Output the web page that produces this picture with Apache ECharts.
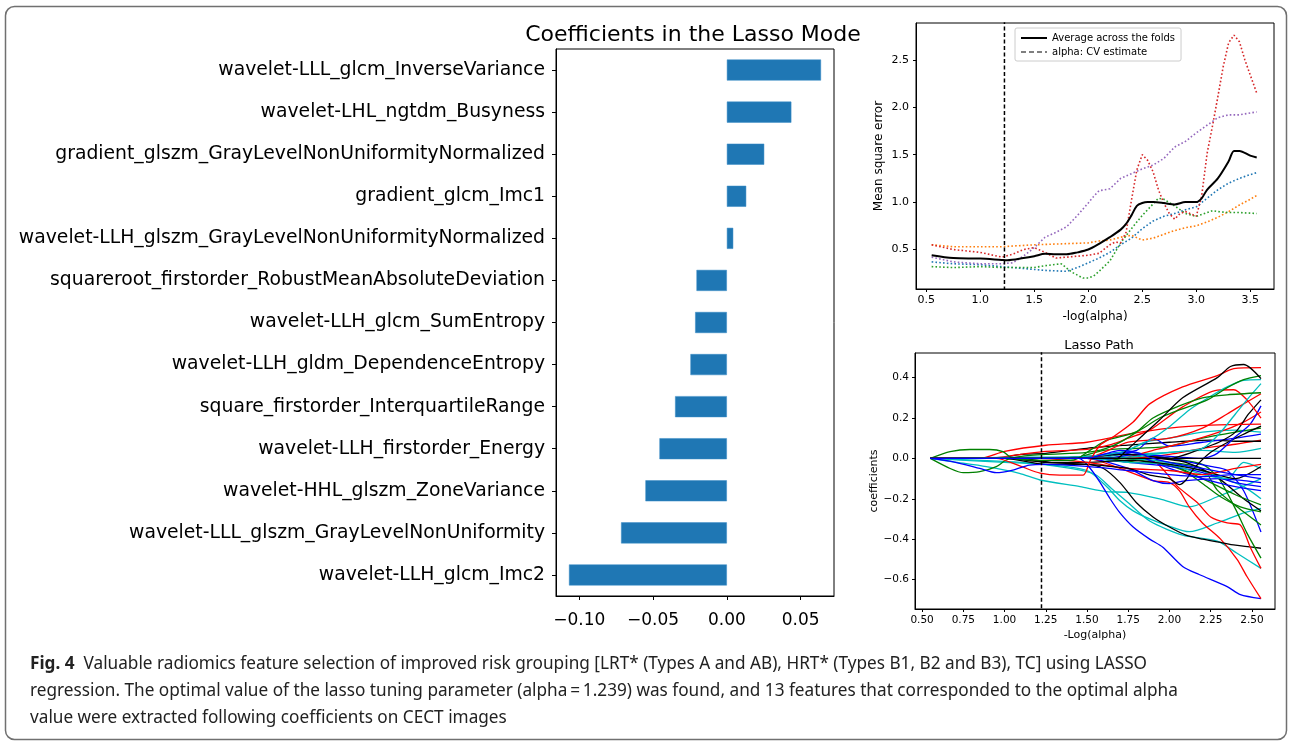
<!DOCTYPE html>
<html>
<head>
<meta charset="utf-8">
<script src="https://cdn.jsdelivr.net/npm/echarts@6/dist/echarts.min.js"></script>
<style>
html,body{margin:0;padding:0;background:#fff;}
#c{width:1290px;height:742px;}
</style>
</head>
<body>
<div id="c"></div>
<script>
// ---------- main bar chart ----------
const barLabels = [
  'wavelet-LLL_glcm_InverseVariance',
  'wavelet-LHL_ngtdm_Busyness',
  'gradient_glszm_GrayLevelNonUniformityNormalized',
  'gradient_glcm_Imc1',
  'wavelet-LLH_glszm_GrayLevelNonUniformityNormalized',
  'squareroot_firstorder_RobustMeanAbsoluteDeviation',
  'wavelet-LLH_glcm_SumEntropy',
  'wavelet-LLH_gldm_DependenceEntropy',
  'square_firstorder_InterquartileRange',
  'wavelet-LLH_firstorder_Energy',
  'wavelet-HHL_glszm_ZoneVariance',
  'wavelet-LLL_glszm_GrayLevelNonUniformity',
  'wavelet-LLH_glcm_Imc2'
];
const barValues = [0.0638, 0.0437, 0.0253, 0.0131, 0.0043, -0.0206, -0.0215, -0.0247, -0.0351, -0.0457, -0.0552, -0.0717, -0.1070];
const barTicks = [-0.10, -0.05, 0.00, 0.05];

// ---------- MSE chart ----------
const mseTicksX = [0.5, 1.0, 1.5, 2.0, 2.5, 3.0, 3.5];
const mseTicksY = [0.5, 1.0, 1.5, 2.0, 2.5];
const alphaCV = 1.224;
const mseFold1 = [[0.55,0.37],[0.75,0.35],[1.0,0.34],[1.2,0.32],[1.5,0.29],[1.6,0.28],[1.8,0.27],[1.9,0.31],[2.0,0.36],[2.1,0.41],[2.2,0.47],[2.3,0.55],[2.4,0.62],[2.5,0.72],[2.6,0.8],[2.7,0.85],[2.8,0.88],[2.9,0.92],[3.0,0.95],[3.1,1.04],[3.2,1.13],[3.3,1.2],[3.4,1.25],[3.5,1.29],[3.56,1.31]];
const mseFold2 = [[0.55,0.55],[0.75,0.53],[1.0,0.53],[1.2,0.53],[1.5,0.55],[1.75,0.56],[2.0,0.57],[2.1,0.59],[2.2,0.6],[2.3,0.63],[2.4,0.65],[2.5,0.6],[2.6,0.62],[2.7,0.66],[2.8,0.7],[2.9,0.73],[3.0,0.75],[3.1,0.79],[3.2,0.84],[3.3,0.9],[3.4,0.97],[3.5,1.03],[3.56,1.07]];
const mseFold3 = [[0.55,0.32],[0.75,0.31],[1.0,0.32],[1.2,0.31],[1.5,0.31],[1.6,0.33],[1.75,0.35],[1.85,0.26],[1.95,0.2],[2.0,0.2],[2.05,0.22],[2.1,0.27],[2.2,0.38],[2.3,0.57],[2.4,0.72],[2.5,0.86],[2.6,0.98],[2.65,1.04],[2.7,1.03],[2.8,0.96],[2.9,0.88],[3.0,0.85],[3.1,0.89],[3.15,0.91],[3.2,0.9],[3.3,0.89],[3.4,0.89],[3.56,0.88]];
const mseFold4 = [[0.55,0.55],[0.75,0.5],[1.0,0.47],[1.2,0.42],[1.3,0.45],[1.4,0.5],[1.5,0.52],[1.6,0.47],[1.7,0.41],[1.8,0.42],[2.0,0.44],[2.1,0.46],[2.2,0.55],[2.25,0.58],[2.3,0.57],[2.35,0.68],[2.4,1.02],[2.45,1.34],[2.5,1.5],[2.55,1.44],[2.6,1.32],[2.65,1.13],[2.7,0.99],[2.75,0.88],[2.8,0.82],[2.85,0.88],[2.9,0.9],[3.0,0.85],[3.05,1.06],[3.1,1.51],[3.15,1.8],[3.2,2.11],[3.25,2.43],[3.3,2.68],[3.35,2.76],[3.4,2.69],[3.45,2.5],[3.5,2.34],[3.56,2.15]];
const mseFold5 = [[0.55,0.42],[0.75,0.37],[1.0,0.35],[1.2,0.35],[1.3,0.36],[1.4,0.43],[1.5,0.52],[1.6,0.63],[1.7,0.68],[1.8,0.74],[1.9,0.86],[2.0,0.99],[2.05,1.06],[2.1,1.12],[2.2,1.14],[2.3,1.25],[2.4,1.3],[2.5,1.35],[2.6,1.39],[2.7,1.46],[2.8,1.58],[2.9,1.64],[3.0,1.73],[3.1,1.81],[3.2,1.89],[3.3,1.92],[3.4,1.92],[3.5,1.94],[3.56,1.95]];
const mseAverage = [[0.55,0.44],[0.75,0.41],[1.0,0.405],[1.2,0.39],[1.25,0.387],[1.4,0.41],[1.5,0.43],[1.6,0.455],[1.7,0.45],[1.8,0.45],[1.9,0.47],[2.0,0.5],[2.1,0.56],[2.2,0.63],[2.3,0.71],[2.35,0.77],[2.4,0.86],[2.45,0.96],[2.5,0.99],[2.55,1.0],[2.6,1.0],[2.7,0.99],[2.8,0.975],[2.9,1.0],[3.0,1.0],[3.05,1.04],[3.1,1.13],[3.2,1.25],[3.3,1.43],[3.35,1.54],[3.4,1.54],[3.5,1.49],[3.56,1.47]];

// ---------- Lasso path chart ----------
const lassoTicksX = [0.50, 0.75, 1.00, 1.25, 1.50, 1.75, 2.00, 2.25, 2.50];
const lassoTicksY = [-0.6, -0.4, -0.2, 0.0, 0.2, 0.4];
const pathK1 = [[0.55,0],[1.6,0],[1.68,0.0],[1.74,0.04],[1.82,0.1],[1.94,0.19],[2.08,0.3],[2.29,0.4],[2.37,0.455],[2.45,0.465],[2.555,0.395]];
const pathR1 = [[0.55,0],[0.95,0],[1.1,-0.04],[1.215,-0.073],[1.336,-0.083],[1.476,-0.083],[1.52,-0.01],[1.58,0.066],[1.66,0.107],[1.78,0.18],[1.88,0.27],[2.08,0.354],[2.29,0.41],[2.39,0.445],[2.555,0.45]];
const pathG1 = [[0.55,0],[0.67,0.033],[0.79,0.044],[0.91,0.044],[0.99,0.033],[1.05,0],[1.3,-0.01],[1.42,-0.008],[1.52,0.041],[1.62,0.09],[1.74,0.115],[1.82,0.14],[1.94,0.2],[2.06,0.24],[2.23,0.29],[2.35,0.35],[2.45,0.39],[2.555,0.41]];
const pathG2 = [[0.55,0],[0.67,-0.05],[0.75,-0.071],[0.85,-0.066],[0.95,-0.041],[1.01,-0.008],[1.1,0.01],[1.25,0.02],[1.5,0.03],[1.65,0.06],[1.8,0.13],[1.9,0.2],[2.06,0.26],[2.2,0.3],[2.35,0.315],[2.555,0.325]];
const pathC1 = [[0.55,0],[1.0,0.005],[1.5,0.01],[1.7,0.03],[1.8,0.06],[1.88,0.09],[2.0,0.157],[2.12,0.24],[2.245,0.305],[2.35,0.354],[2.45,0.387],[2.555,0.39]];
const pathC2 = [[0.55,0],[1.6,0],[1.8,0.01],[2.0,0.03],[2.2,0.05],[2.3,0.12],[2.4,0.22],[2.48,0.3],[2.555,0.37]];
const pathR2 = [[0.55,0],[0.9,0],[1.1,0.02],[1.25,0.035],[1.5,0.045],[1.65,0.07],[1.75,0.1],[1.88,0.14],[2.08,0.255],[2.29,0.338],[2.39,0.34],[2.47,0.29],[2.555,0.2]];
const pathR3 = [[0.55,0],[1.5,0],[1.6,0.03],[1.75,0.08],[2.0,0.1],[2.2,0.15],[2.35,0.22],[2.45,0.27],[2.555,0.32]];
const pathR4 = [[0.55,0],[0.85,0],[1.0,0.035],[1.25,0.065],[1.5,0.08],[1.75,0.12],[2.0,0.15],[2.25,0.165],[2.555,0.17]];
const pathK2 = [[0.55,0],[1.3,0],[1.5,0.01],[1.75,0.02],[2.0,0.0],[2.2,0.05],[2.3,0.08],[2.4,0.13],[2.48,0.22],[2.555,0.29]];
const pathB1 = [[0.55,0],[1.6,0],[1.8,0.02],[2.0,0.01],[2.2,0.0],[2.29,0.025],[2.4,0.107],[2.49,0.17],[2.555,0.26]];
const pathR5 = [[0.55,0],[1.7,0],[1.9,0.04],[2.1,0.08],[2.3,0.13],[2.45,0.18],[2.555,0.23]];
const pathK3 = [[0.55,0],[1.0,0],[1.25,-0.02],[1.5,-0.03],[1.75,-0.05],[1.88,-0.083],[2.0,-0.1],[2.06,-0.13],[2.1,-0.107],[2.14,-0.058],[2.25,0.03],[2.4,0.1],[2.555,0.16]];
const pathG3 = [[0.55,0],[1.4,0],[1.6,0.04],[1.8,0.05],[2.0,0.06],[2.2,0.1],[2.4,0.13],[2.555,0.15]];
const pathB2 = [[0.55,0],[1.45,0],[1.6,0.02],[1.8,0.04],[1.9,0.1],[2.0,0.06],[2.2,0.08],[2.4,0.1],[2.555,0.12]];
const pathC3 = [[0.55,0],[1.5,0],[1.7,0.02],[1.85,0.08],[2.0,0.1],[2.2,0.13],[2.4,0.14],[2.555,0.13]];
const pathK4 = [[0.55,0],[0.95,0],[1.1,0.02],[1.25,0.025],[1.5,0.05],[1.75,0.066],[2.0,0.08],[2.25,0.09],[2.4,0.085],[2.555,0.085]];
const pathR6 = [[0.55,0],[1.3,0],[1.5,0.01],[1.75,0.0],[2.0,0.02],[2.2,0.05],[2.4,0.07],[2.555,0.09]];
const pathC4 = [[0.55,0],[1.6,0],[1.8,0.02],[2.0,0.03],[2.2,0.04],[2.4,0.03],[2.555,0.05]];
const pathR7 = [[0.55,0],[1.2,0],[1.5,-0.02],[1.75,-0.05],[2.0,-0.06],[2.2,-0.08],[2.4,-0.05],[2.555,-0.03]];
const pathK5 = [[0.55,0],[2.555,0]];
const pathB3 = [[0.55,0],[1.5,0],[1.6,0.02],[1.7,0.04],[1.8,0.03],[1.9,0.0],[2.0,-0.02],[2.2,-0.05],[2.4,-0.08],[2.555,-0.1]];
const pathK6 = [[0.55,0],[1.1,0],[1.3,-0.02],[1.5,-0.02],[1.75,-0.01],[2.0,-0.03],[2.2,-0.06],[2.4,-0.1],[2.555,-0.04]];
const pathC5 = [[0.55,0],[1.3,0],[1.5,0.0],[1.75,-0.02],[2.0,-0.03],[2.2,-0.08],[2.35,-0.1],[2.45,-0.02],[2.555,-0.05]];
const pathB4 = [[0.55,0],[0.69,-0.017],[0.85,-0.05],[0.95,-0.071],[1.05,-0.058],[1.15,-0.033],[1.25,-0.03],[1.5,-0.04],[1.75,-0.06],[2.0,-0.08],[2.2,-0.09],[2.4,-0.08],[2.555,-0.08]];
const pathB5 = [[0.55,0],[1.5,0],[1.75,-0.05],[1.9,-0.11],[2.0,-0.125],[2.1,-0.11],[2.3,-0.1],[2.45,-0.11],[2.555,-0.12]];
const pathB6 = [[0.55,0],[1.55,0],[1.75,-0.02],[2.0,-0.04],[2.2,-0.07],[2.4,-0.12],[2.555,-0.14]];
const pathB7 = [[0.55,0],[1.5,0],[1.7,0.03],[1.85,0.0],[2.0,-0.05],[2.2,-0.1],[2.4,-0.14],[2.555,-0.16]];
const pathC6 = [[0.55,0],[1.7,0],[1.9,-0.01],[2.1,-0.04],[2.3,-0.09],[2.45,-0.14],[2.555,-0.2]];
const pathG4 = [[0.55,0],[1.6,0],[1.8,-0.02],[2.0,-0.03],[2.2,-0.1],[2.4,-0.18],[2.555,-0.23]];
const pathG5 = [[0.55,0],[1.7,0],[1.9,-0.02],[2.08,-0.058],[2.2,-0.124],[2.31,-0.19],[2.43,-0.24],[2.555,-0.265]];
const pathK7 = [[0.55,0],[1.7,0],[1.9,0.0],[2.1,-0.02],[2.3,-0.1],[2.45,-0.2],[2.555,-0.26]];
const pathG6 = [[0.55,0],[1.75,0],[2.0,-0.02],[2.2,-0.05],[2.29,-0.157],[2.41,-0.24],[2.555,-0.33]];
const pathB8 = [[0.55,0],[1.5,0],[1.75,0.03],[2.0,0.0],[2.25,-0.04],[2.35,-0.06],[2.45,-0.16],[2.555,-0.365]];
const pathK8 = [[0.55,0],[1.0,0],[1.25,-0.03],[1.5,-0.03],[1.6,-0.05],[1.7,-0.12],[1.8,-0.22],[1.9,-0.29],[2.0,-0.34],[2.1,-0.38],[2.2,-0.4],[2.3,-0.415],[2.4,-0.43],[2.555,-0.445]];
const pathG7 = [[0.55,0],[1.5,0],[1.75,0.03],[2.0,0.0],[2.2,-0.03],[2.3,-0.1],[2.4,-0.25],[2.47,-0.37],[2.555,-0.494]];
const pathR8 = [[0.55,0],[1.7,0],[1.91,-0.017],[2.05,-0.14],[2.17,-0.22],[2.25,-0.29],[2.35,-0.32],[2.43,-0.33],[2.49,-0.44],[2.555,-0.545]];
const pathC7 = [[0.55,0],[1.1,-0.02],[1.4,-0.05],[1.55,-0.08],[1.65,-0.15],[1.75,-0.22],[1.88,-0.31],[2.08,-0.38],[2.29,-0.41],[2.41,-0.47],[2.555,-0.545]];
const pathC8 = [[0.55,0],[1.0,-0.02],[1.25,-0.03],[1.5,-0.06],[1.62,-0.14],[1.7,-0.21],[1.78,-0.26],[1.88,-0.3],[1.98,-0.33],[2.12,-0.363],[2.29,-0.32],[2.45,-0.27],[2.555,-0.247]];
const pathC9 = [[0.55,0],[0.69,-0.017],[0.89,-0.041],[1.09,-0.074],[1.215,-0.107],[1.458,-0.14],[1.62,-0.165],[1.74,-0.168],[1.94,-0.2],[2.12,-0.24],[2.29,-0.19],[2.49,-0.124],[2.555,-0.1]];
const pathR9 = [[0.55,0],[1.5,0],[1.7,-0.05],[1.9,-0.11],[2.0,-0.12],[2.06,-0.16],[2.12,-0.24],[2.2,-0.32],[2.31,-0.4],[2.41,-0.5],[2.47,-0.585],[2.555,-0.695]];
const pathB9 = [[0.55,0],[1.45,0],[1.52,-0.05],[1.58,-0.12],[1.64,-0.2],[1.7,-0.27],[1.78,-0.34],[1.88,-0.4],[1.96,-0.44],[2.08,-0.535],[2.18,-0.575],[2.35,-0.635],[2.43,-0.675],[2.555,-0.695]];

const B='#0000ff', G='#008000', R='#ff0000', C='#00bfbf', K='#000000';
const lassoPaths = [
  [pathC9,C],[pathC8,C],[pathC7,C],[pathB9,B],[pathR9,R],[pathK8,K],[pathR8,R],[pathG7,G],
  [pathB8,B],[pathG6,G],[pathK7,K],[pathG5,G],[pathG4,G],[pathC6,C],[pathB7,B],[pathB6,B],
  [pathB5,B],[pathC5,C],[pathK6,K],[pathR7,R],[pathC4,C],[pathR6,R],[pathK4,K],[pathC3,C],
  [pathB2,B],[pathG3,G],[pathK3,K],[pathR5,R],[pathB1,B],[pathK2,K],[pathR4,R],[pathR3,R],
  [pathR2,R],[pathC2,C],[pathC1,C],[pathG2,G],[pathG1,G],[pathR1,R],[pathK1,K],
  [pathK5,K],[pathB4,B],[pathB3,B]
];

// ---------- chart ----------
const chart = echarts.init(document.getElementById('c'), null, {renderer: 'canvas'});
const FONT = '"DejaVu Sans", "Liberation Sans", sans-serif';
const fmt = (d) => (v) => (v < 0 ? '\u2212' : '') + Math.abs(v).toFixed(d);

const series = [];
series.push({
  type: 'bar', xAxisIndex: 0, yAxisIndex: 0, data: barValues, barWidth: '50%',
  itemStyle: {color: '#1f77b4', borderColor: '#3a8cc6', borderWidth: 0.5}
});
const foldColors = ['#1f77b4', '#ff7f0e', '#2ca02c', '#d62728', '#9467bd'];
[mseFold1, mseFold2, mseFold3, mseFold4, mseFold5].forEach((d, i) => {
  series.push({type: 'line', xAxisIndex: 1, yAxisIndex: 1, data: d, symbol: 'none', silent: true,
    lineStyle: {color: foldColors[i], width: 1.6, type: [1.6, 2.2]}});
});
series.push({name: 'Average across the folds', type: 'line', xAxisIndex: 1, yAxisIndex: 1, data: mseAverage,
  symbol: 'none', smooth: 0.3, itemStyle: {color: '#000'}, lineStyle: {color: '#000', width: 2}});
series.push({name: 'alpha: CV estimate', type: 'line', xAxisIndex: 1, yAxisIndex: 1,
  data: [[alphaCV, 0], [alphaCV, 3]], symbol: 'none', itemStyle: {color: '#000'},
  lineStyle: {color: '#000', width: 1.5, type: [4, 2.5]}});
lassoPaths.forEach(([d, col]) => {
  series.push({type: 'line', xAxisIndex: 2, yAxisIndex: 2, data: d, symbol: 'none', smooth: 0.25, silent: true,
    lineStyle: {color: col, width: 1.3}});
});
series.push({type: 'line', xAxisIndex: 2, yAxisIndex: 2, data: [[alphaCV, -1], [alphaCV, 1]], symbol: 'none',
  lineStyle: {color: '#000', width: 1.5, type: [4, 2.5]}});

const tickStyle = {show: true, inside: false, length: 4, lineStyle: {color: '#000', width: 1}};
const lineStyleAx = {show: true, onZero: false, lineStyle: {color: '#000', width: 1}};
const capFont = '18px "Liberation Sans Narrow", "Noto Sans", sans-serif';

chart.setOption({
  animation: false,
  backgroundColor: '#fff',
  title: [
    {text: 'Coefficients in the Lasso Mode', left: 688, top: 19, textAlign: 'center',
      textStyle: {fontFamily: FONT, fontSize: 22, fontWeight: 'normal', color: '#000'}},
    {text: 'Lasso Path', left: 1094, top: 334, textAlign: 'center',
      textStyle: {fontFamily: FONT, fontSize: 13, fontWeight: 'normal', color: '#000'}}
  ],
  legend: {
    data: [
      {name: 'Average across the folds', icon: 'rect'},
      {name: 'alpha: CV estimate', icon: 'path://M0,0h5v1h-5z M8,0h5v1h-5z M16,0h5v1h-5z M24,0h2v1h-2z'}
    ],
    orient: 'vertical', left: 1015, top: 28, itemWidth: 26, itemHeight: 2, itemGap: 4,
    padding: [5, 6, 4, 6], borderColor: '#cccccc', borderWidth: 1, borderRadius: 2,
    textStyle: {fontFamily: FONT, fontSize: 10, color: '#000'}
  },
  grid: [
    {left: 556, top: 49, width: 278, height: 547, show: true, borderColor: '#000', borderWidth: 1},
    {left: 916, top: 23, width: 358, height: 266, show: true, borderColor: '#000', borderWidth: 1},
    {left: 915, top: 353, width: 360, height: 256, show: true, borderColor: '#000', borderWidth: 1}
  ],
  xAxis: [
    {gridIndex: 0, type: 'value', min: -0.1158, max: 0.0726, axisLine: lineStyleAx, splitLine: {show: false},
      axisTick: Object.assign({customValues: barTicks}, tickStyle),
      axisLabel: {customValues: barTicks, formatter: fmt(2), fontFamily: FONT, fontSize: 17, color: '#000', margin: 16}},
    {gridIndex: 1, type: 'value', min: 0.405, max: 3.72, axisLine: lineStyleAx, splitLine: {show: false},
      name: '-log(alpha)', nameLocation: 'middle', nameGap: 22,
      nameTextStyle: {fontFamily: FONT, fontSize: 12, color: '#000'},
      axisTick: Object.assign({customValues: mseTicksX}, tickStyle, {length: 3}),
      axisLabel: {customValues: mseTicksX, formatter: fmt(1), fontFamily: FONT, fontSize: 11, color: '#000', margin: 6}},
    {gridIndex: 2, type: 'value', min: 0.457, max: 2.64, axisLine: lineStyleAx, splitLine: {show: false},
      name: '-Log(alpha)', nameLocation: 'middle', nameGap: 21,
      nameTextStyle: {fontFamily: FONT, fontSize: 11, color: '#000'},
      axisTick: Object.assign({customValues: lassoTicksX}, tickStyle, {length: 3}),
      axisLabel: {customValues: lassoTicksX, formatter: fmt(2), fontFamily: FONT, fontSize: 10.5, color: '#000', margin: 6}}
  ],
  yAxis: [
    {gridIndex: 0, type: 'category', data: barLabels, inverse: true, axisLine: lineStyleAx,
      axisTick: Object.assign({alignWithLabel: true}, tickStyle),
      axisLabel: {fontFamily: FONT, fontSize: 18.8, color: '#000', margin: 11}},
    {gridIndex: 1, type: 'value', min: 0.084, max: 2.888, axisLine: lineStyleAx, splitLine: {show: false},
      name: 'Mean square error', nameLocation: 'middle', nameGap: 31, nameRotate: 90,
      nameTextStyle: {fontFamily: FONT, fontSize: 12, color: '#000'},
      axisTick: Object.assign({customValues: mseTicksY}, tickStyle, {length: 3}),
      axisLabel: {customValues: mseTicksY, formatter: fmt(1), fontFamily: FONT, fontSize: 11, color: '#000', margin: 7}},
    {gridIndex: 2, type: 'value', min: -0.746, max: 0.522, axisLine: lineStyleAx, splitLine: {show: false},
      name: 'coefficients', nameLocation: 'middle', nameGap: 33, nameRotate: 90,
      nameTextStyle: {fontFamily: FONT, fontSize: 11, color: '#000'},
      axisTick: Object.assign({customValues: lassoTicksY}, tickStyle, {length: 3}),
      axisLabel: {customValues: lassoTicksY, formatter: fmt(1), fontFamily: FONT, fontSize: 10.5, color: '#000', margin: 6}}
  ],
  graphic: [
    {type: 'rect', z: 100, silent: true, shape: {x: 5.5, y: 6.5, width: 1281, height: 733, r: 9},
      style: {fill: 'none', stroke: '#707070', lineWidth: 1.5}},
    {type: 'text', x: 30, y: 655, scaleX: 0.955, z: 100, style: {
      text: '{b|Fig. 4}  Valuable radiomics feature selection of improved risk grouping [LRT* (Types A and AB), HRT* (Types B1, B2 and B3), TC] using LASSO',
      font: capFont, fill: '#222',
      rich: {b: {font: 'bold 18px "Liberation Sans Narrow", "Noto Sans", sans-serif', fill: '#222'}}}},
    {type: 'text', x: 30, y: 682, scaleX: 0.955, z: 100, style: {
      text: 'regression. The optimal value of the lasso tuning parameter (alpha\u2009=\u20091.239) was found, and 13 features that corresponded to the optimal alpha',
      font: capFont, fill: '#222'}},
    {type: 'text', x: 30, y: 709, scaleX: 0.955, z: 100, style: {
      text: 'value were extracted following coefficients on CECT images',
      font: capFont, fill: '#222'}}
  ],
  series: series
});
</script>
</body>
</html>
